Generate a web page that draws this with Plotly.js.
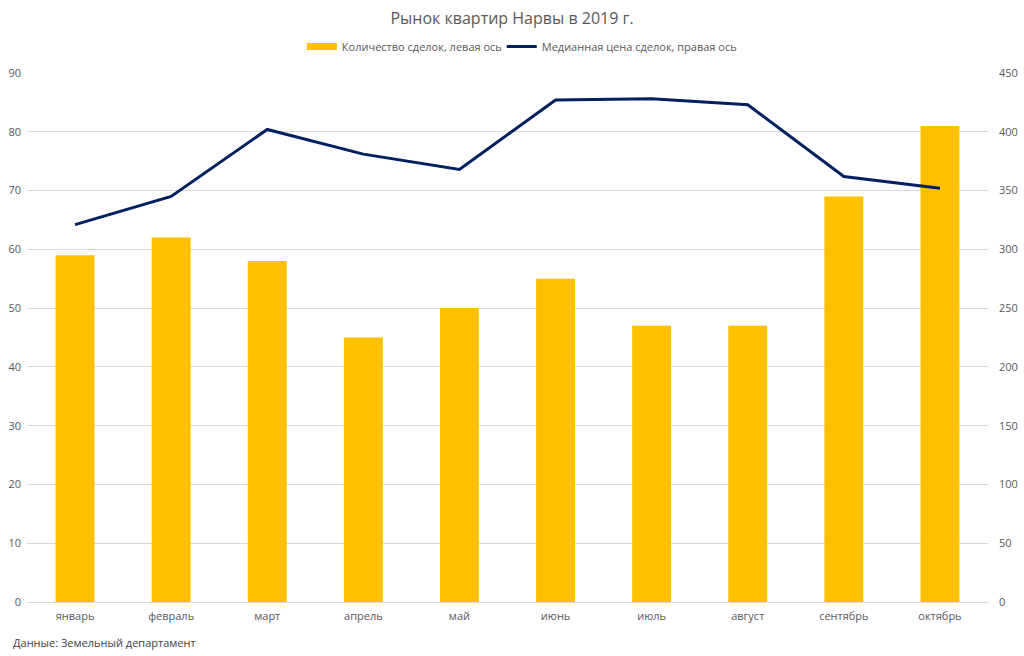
<!DOCTYPE html>
<html>
<head>
<meta charset="utf-8">
<script src="https://cdn.plot.ly/plotly-3.0.1.min.js"></script>
<style>html,body{margin:0;padding:0;background:#fff;}#chart{width:1024px;height:656px;}</style>
</head>
<body>
<div id="chart"></div>
<script>
const months = ["январь","февраль","март","апрель","май","июнь","июль","август","сентябрь","октябрь"];
const deals = [59, 62, 58, 45, 50, 55, 47, 47, 69, 81];
const medianPrice = [321, 345, 402, 381, 368, 427, 428, 423, 362, 352];
const leftTicks = [0,10,20,30,40,50,60,70,80,90];
const rightTicks = [0,50,100,150,200,250,300,350,400,450];
const seriesNames = ["Количество сделок, левая ось", "Медианная цена сделок, правая ось"];

const font = "'Open Sans', 'Segoe UI', sans-serif";
const data = [
  {type:"bar", x: months, y: deals, name:seriesNames[0], showlegend:false, legendgroup:"a",
   marker:{color:"#FFC000"}, yaxis:"y"},
  {type:"scatter", mode:"lines", x:[null], y:[null], name:seriesNames[0], legendgroup:"a", legend:"legend",
   line:{color:"#FFC000", width:7}, yaxis:"y", hoverinfo:"skip"},
  {type:"scatter", mode:"lines", x: months, y: medianPrice, name:seriesNames[1], legend:"legend2",
   line:{color:"#002060", width:3}, yaxis:"y2"}
];
const legendFont = {family:font, size:11, color:"#595959"};
const layout = {
  width:1024, height:656,
  margin:{l:27, r:36, t:73, b:54},
  paper_bgcolor:"#fff", plot_bgcolor:"#fff",
  font:{family:font, size:11, color:"#595959"},
  title:{text:"Рынок квартир Нарвы в 2019 г.", x:0.5, xanchor:"center", y:0.972, yanchor:"middle",
         font:{family:font, size:16, color:"#595959"}},
  bargap:0.595,
  showlegend:true,
  legend:{orientation:"h", x:0.286, xanchor:"left", y:1.05, yanchor:"middle", itemwidth:30, font:legendFont},
  legend2:{orientation:"h", x:0.494, xanchor:"left", y:1.05, yanchor:"middle", itemwidth:30, font:legendFont},
  xaxis:{type:"category", showgrid:false, showline:false, zeroline:false, ticks:"", ticklabelstandoff:6,
         tickfont:{family:font, size:11, color:"#595959"}, fixedrange:true},
  yaxis:{range:[0,90], tickvals:leftTicks, ticktext:leftTicks.map(String), showgrid:true, gridcolor:"#d9d9d9",
         gridwidth:1, zeroline:true, zerolinecolor:"#d9d9d9", showline:false, ticks:"",
         ticklabelstandoff:5, tickfont:{family:font, size:11, color:"#595959"}},
  yaxis2:{range:[0,450], tickvals:rightTicks, ticktext:rightTicks.map(String), overlaying:"y", side:"right",
          showgrid:false, zeroline:false, showline:false, ticks:"", ticklabelstandoff:10,
          tickfont:{family:font, size:11, color:"#595959"}},
  annotations:[{text:"Данные: Земельный департамент", xref:"paper", yref:"paper", x:-0.017, xanchor:"left",
                y:-0.076, yanchor:"middle", showarrow:false, font:{family:font, size:11, color:"#404040"}}]
};
Plotly.newPlot("chart", data, layout, {displayModeBar:false, staticPlot:true});
</script>
</body>
</html>
